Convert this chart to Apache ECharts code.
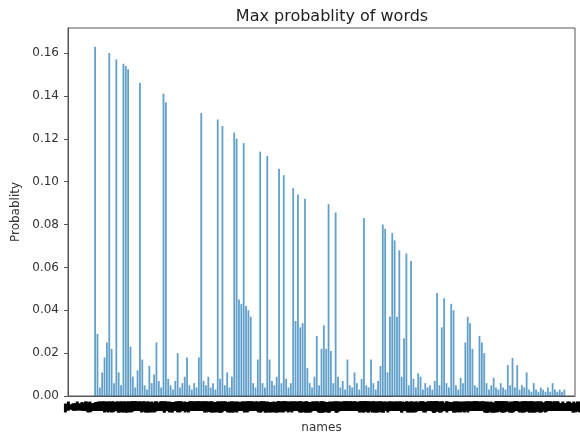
<!DOCTYPE html>
<html>
<head>
<meta charset="utf-8">
<script src="https://cdn.jsdelivr.net/npm/echarts@6/dist/echarts.min.js"></script>
<style>
  html, body { margin: 0; padding: 0; background: #fff; }
  #main { width: 580px; height: 436px; }
</style>
</head>
<body>
<div id="main"></div>
<script>
// word names (x axis), split in four chunks
const namesA = ['language','probability','sentence','document','training','network','learning','function','sequence','vocabulary','embedding','attention','classifier','frequency','dictionary','character','transformer','tokenizer','prediction','evaluation','dataset','gradient','optimizer','parameter','recurrent','decoder','encoder','semantic','syntactic','corpus','distribution','likelihood','inference','annotation','translation','generation','retrieval','similarity','clustering','regression','sampling','smoothing','perplexity','accuracy','precision','threshold','features','matrix','vectors','context'];
const namesB = ['government','business','community','education','experience','information','development','relationship','management','environment','technology','university','department','president','something','everything','important','different','political','beautiful','wonderful','yesterday','tomorrow','afternoon','restaurant','hospital','magazine','newspaper','television','adventure','knowledge','strategy','building','question','together','children','morning','evening','mountain','champion','audience','behavior','creative','decision','economic','standard','material','national','personal','practice'];
const namesC = ['understand','necessary','beginning','especially','everybody','happiness','individual','interesting','particular','population','situation','structure','traditional','production','professional','successful','themselves','throughout','treatment','committee','conference','collection','connection','difficulty','discussion','foundation','instrument','investment','leadership','literature','membership','operation','performance','perspective','photograph','possibility','preparation','protection','reflection','resolution','satellite','signature','spectrum','sunlight','surgery','teaching','telephone','transport','universe','vacation'];
const namesD = ['apartment','basketball','calculation','celebration','chocolate','classroom','comparison','competition','complaint','computer','confidence','construction','conversation','currency','customer','democracy','description','destination','detective','diagnosis','disaster','discovery','elephant','emergency','engineer','equipment','exhibition','explanation','furniture','geography','grandfather','guarantee','highlight','household','illustration','imagination','immigration','incident','inflation','ingredient','inspector','insurance','interview','invitation','keyboard','landscape','lightning','marketing','mechanism','midnight'];

// max probability per word
const probsA = [0.163,0.029,0.004,0.011,0.018,0.025,0.160,0.022,0.006,0.157,0.011,0.005,0.155,0.154,0.1525,0.023,0.009,0.004,0.012,0.146,0.017,0.005,0.003,0.014,0.006,0.010,0.025,0.007,0.004,0.141,0.137,0.008,0.005,0.003,0.007,0.020,0.004,0.006,0.009,0.018,0.005,0.003,0.006,0.004,0.018,0.132,0.007,0.005,0.009,0.004];
const probsB = [0.006,0.003,0.129,0.008,0.126,0.005,0.011,0.004,0.009,0.123,0.120,0.045,0.043,0.118,0.042,0.040,0.037,0.006,0.004,0.017,0.114,0.006,0.004,0.112,0.017,0.007,0.005,0.009,0.106,0.006,0.103,0.008,0.004,0.006,0.097,0.035,0.094,0.032,0.034,0.092,0.013,0.006,0.004,0.009,0.028,0.005,0.022,0.033,0.022,0.0895];
const probsC = [0.021,0.006,0.0856,0.009,0.004,0.007,0.003,0.017,0.005,0.004,0.011,0.006,0.003,0.008,0.083,0.005,0.004,0.017,0.006,0.003,0.007,0.014,0.080,0.078,0.011,0.037,0.076,0.0726,0.037,0.068,0.009,0.027,0.0665,0.005,0.063,0.008,0.004,0.0106,0.009,0.003,0.006,0.004,0.005,0.003,0.007,0.048,0.005,0.032,0.0456,0.006];
const probsD = [0.004,0.043,0.040,0.005,0.003,0.0085,0.006,0.025,0.037,0.034,0.022,0.005,0.004,0.028,0.025,0.020,0.006,0.003,0.005,0.0085,0.004,0.003,0.006,0.004,0.003,0.0144,0.005,0.0177,0.004,0.0144,0.003,0.005,0.004,0.011,0.003,0.002,0.006,0.003,0.002,0.004,0.003,0.002,0.004,0.002,0.006,0.003,0.002,0.003,0.002,0.003];

const yTicks = [0, 0.02, 0.04, 0.06, 0.08, 0.10, 0.12, 0.14, 0.16];

// empty slots left/right act like matplotlib's x margins
const padL = 11, padR = 4;
const names = [].concat(namesA, namesB, namesC, namesD);
const probs = [].concat(probsA, probsB, probsC, probsD);
const cats = Array(padL).fill('').concat(names, Array(padR).fill(''));
const vals = Array(padL).fill(null).concat(probs, Array(padR).fill(null));

const font = 'DejaVu Sans';
const chart = echarts.init(document.getElementById('main'));
chart.setOption({
  animation: false,
  title: {
    text: 'Max probablity of words',
    left: 327, top: 4, textAlign: 'center',
    textStyle: { fontFamily: font, fontSize: 16, fontWeight: 'normal', color: '#222' }
  },
  grid: {
    left: 68, right: 5, top: 28, bottom: 40,
    outerBoundsMode: 'none',
    show: true, borderColor: '#555', borderWidth: 1
  },
  xAxis: {
    type: 'category',
    data: cats,
    name: 'names',
    nameLocation: 'middle',
    nameGap: 26,
    nameTextStyle: { fontFamily: font, fontSize: 12, color: '#333' },
    axisLine: { lineStyle: { color: '#555' } },
    axisTick: { show: false },
    axisLabel: {
      interval: 0, hideOverlap: false, overflow: 'none',
      fontFamily: font, fontSize: 11, fontWeight: 'bold', color: '#000', margin: 6,
      textBorderColor: '#000', textBorderWidth: 1
    }
  },
  yAxis: {
    type: 'value',
    min: 0, max: 0.1717, interval: 0.02,
    name: 'Probablity',
    nameLocation: 'middle',
    nameGap: 45,
    nameTextStyle: { fontFamily: font, fontSize: 12, color: '#333' },
    axisLine: { show: true, lineStyle: { color: '#555' } },
    axisTick: { show: true, length: 4, customValues: yTicks, lineStyle: { color: '#555' } },
    splitLine: { show: false },
    axisLabel: {
      customValues: yTicks,
      fontFamily: font, fontSize: 12, color: '#333', margin: 9,
      formatter: v => v.toFixed(2)
    }
  },
  series: [{
    type: 'bar',
    data: vals,
    barWidth: 1.8,
    itemStyle: { color: '#1f77b4', opacity: 0.7 }
  }]
});
</script>
</body>
</html>
